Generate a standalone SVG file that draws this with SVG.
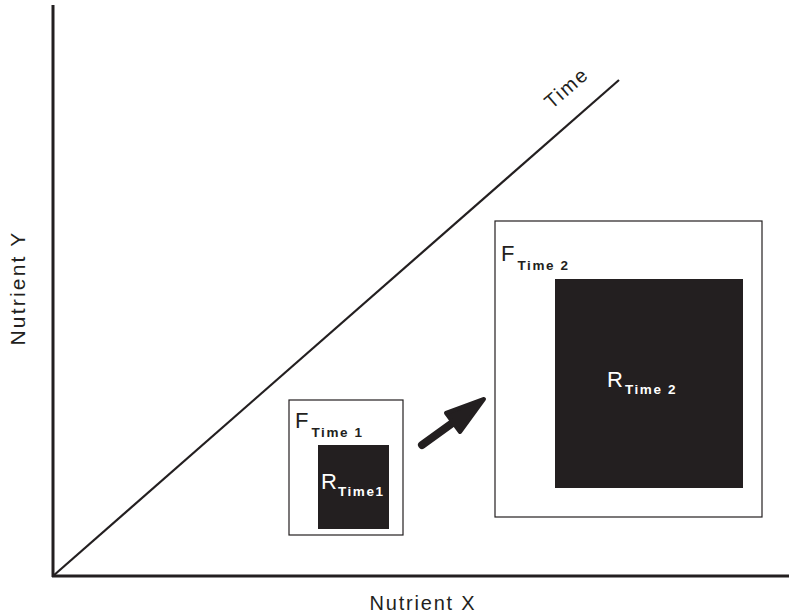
<svg xmlns="http://www.w3.org/2000/svg" width="789" height="614" viewBox="0 0 789 614">
<style>
.ax{stroke:#231f20;stroke-width:3;fill:none}
.box{fill:#fff;stroke:#231f20;stroke-width:1.2}
.blk{fill:#231f20}
.lbl{font-family:"Liberation Sans",Arial,sans-serif;font-size:20px;letter-spacing:1.8px;fill:#231f20}
.big{font-family:"Liberation Sans",Arial,sans-serif;font-size:22px}
.sub{font-family:"Liberation Sans",Arial,sans-serif;font-size:13.5px;font-weight:bold;letter-spacing:1.6px}
</style>
<rect width="789" height="614" fill="#fff"/>
<g id="axes">
<line class="ax" x1="53" y1="5" x2="53" y2="577"/>
<line class="ax" x1="52" y1="576" x2="789" y2="576"/>
<line x1="53" y1="576" x2="619" y2="80" stroke="#231f20" stroke-width="2.2"/>
<text class="lbl" transform="translate(25,288) rotate(-90)" text-anchor="middle" style="font-size:21px;letter-spacing:2.2px">Nutrient Y</text>
<text class="lbl" x="423" y="610" text-anchor="middle">Nutrient X</text>
<text class="lbl" transform="translate(571,93) rotate(-41)" text-anchor="middle">Time</text>
</g>
<g id="box1">
<rect class="box" x="289" y="400" width="114" height="135"/>
<text x="295" y="428" fill="#231f20"><tspan class="big">F</tspan><tspan class="sub" dy="9" dx="3">Time 1</tspan></text>
<rect class="blk" x="318" y="445" width="71" height="84"/>
<text x="321" y="489" fill="#fff"><tspan class="big">R</tspan><tspan class="sub" dy="7" dx="1">Time1</tspan></text>
</g>
<g id="box2">
<rect class="box" x="495" y="221" width="267" height="296"/>
<text x="501" y="261" fill="#231f20"><tspan class="big">F</tspan><tspan class="sub" dy="9" dx="3">Time 2</tspan></text>
<rect class="blk" x="555" y="279" width="188" height="209"/>
<text x="607" y="387" fill="#fff"><tspan class="big">R</tspan><tspan class="sub" dy="7" dx="2">Time 2</tspan></text>
</g>
<g id="connectors">
<line x1="422" y1="445" x2="458" y2="419" stroke="#231f20" stroke-width="8" stroke-linecap="round"/>
<polygon points="484,399 446,413 460,432" fill="#231f20" stroke="#231f20" stroke-width="4" stroke-linejoin="round"/>
</g>
</svg>
